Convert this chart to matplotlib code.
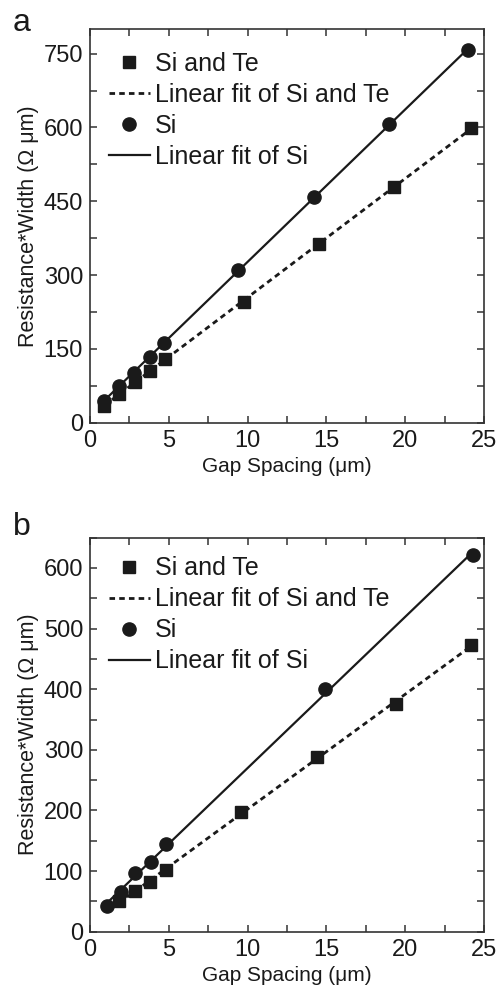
import numpy as np
import matplotlib
matplotlib.use("Agg")
import matplotlib.pyplot as plt
from matplotlib.ticker import MultipleLocator

plt.rcParams['font.family'] = ['Liberation Sans', 'DejaVu Sans']

# Panel a
a_site_x = [0.9, 1.85, 2.85, 3.8, 4.75, 9.75, 14.5, 19.3, 24.2]
a_site_y = [34, 58, 82, 106, 129, 246, 364, 479, 598]
a_si_x = [0.9, 1.85, 2.8, 3.8, 4.7, 9.4, 14.2, 19.0, 24.0]
a_si_y = [45, 75, 102, 133, 163, 310, 459, 608, 757]

# Panel b
b_site_x = [1.85, 2.85, 3.8, 4.8, 9.6, 14.4, 19.4, 24.2]
b_site_y = [50, 67, 82, 101, 197, 288, 376, 473]
b_si_x = [1.05, 1.95, 2.85, 3.85, 4.85, 14.9, 24.3]
b_si_y = [42, 65, 96, 115, 144, 401, 621]

labels = ["Si and Te", "Linear fit of Si and Te", "Si", "Linear fit of Si"]

fig = plt.figure(figsize=(5.0, 9.9), dpi=100)
ax1 = fig.add_axes([0.18, 0.573, 0.788, 0.3977])
ax2 = fig.add_axes([0.18, 0.0589, 0.788, 0.398])

def draw(ax, sx, sy, cx, cy, ymax, ymaj, ymin, legy):
    sx = np.array(sx); sy = np.array(sy)
    cx = np.array(cx); cy = np.array(cy)
    ps = np.polyfit(sx, sy, 1)
    pc = np.polyfit(cx, cy, 1)
    xs = np.array([sx.min(), sx.max()])
    xc = np.array([cx.min(), cx.max()])
    h1, = ax.plot(sx, sy, 's', color='#1a1a1a', ms=8.5, ls='none')
    h2, = ax.plot(xs, np.polyval(ps, xs), color='#1a1a1a', lw=2.0, ls=(0, (2.0, 1.5)))
    h3, = ax.plot(cx, cy, 'o', color='#1a1a1a', ms=9.5, ls='none')
    h4, = ax.plot(xc, np.polyval(pc, xc), color='#1a1a1a', lw=1.6, ls='-')
    ax.set_xlim(0, 25)
    ax.set_ylim(0, ymax)
    ax.xaxis.set_major_locator(MultipleLocator(5))
    ax.xaxis.set_minor_locator(MultipleLocator(2.5))
    ax.yaxis.set_major_locator(MultipleLocator(ymaj))
    ax.yaxis.set_minor_locator(MultipleLocator(ymin))
    ax.tick_params(which='both', direction='in', top=True, right=True,
                   length=5, width=1.1, labelsize=17, color='#333333',
                   labelcolor='#1a1a1a', pad=5)
    for s in ax.spines.values():
        s.set_linewidth(1.2)
        s.set_color('#333333')
    ax.set_xlabel("Gap Spacing (\u03bcm)", fontsize=15, color='#1a1a1a', labelpad=4)
    ax.set_ylabel("Resistance*Width (\u03a9 \u03bcm)", fontsize=15.5, color='#1a1a1a', labelpad=3)
    leg = ax.legend([h1, h2, h3, h4], labels, loc='upper left', frameon=False,
                    fontsize=18, handlelength=1.65, handletextpad=0.2,
                    labelspacing=0.28, borderaxespad=0.35,
                    bbox_to_anchor=(0.0, legy))
    for t in leg.get_texts():
        t.set_color('#1a1a1a')

draw(ax1, a_site_x, a_site_y, a_si_x, a_si_y, 800, 150, 75, 0.99)
draw(ax2, b_site_x, b_site_y, b_si_x, b_si_y, 650, 100, 50, 1.0)

fig.text(0.044, 0.977, "a", fontsize=23, color='#1a1a1a', ha='center', va='center')
fig.text(0.044, 0.468, "b", fontsize=23, color='#1a1a1a', ha='center', va='center')

fig.savefig("out.png", dpi=100)
